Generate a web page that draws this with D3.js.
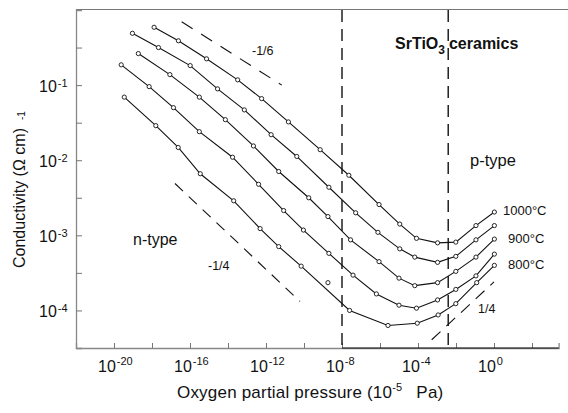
<!DOCTYPE html>
<html><head><meta charset="utf-8">
<script src="https://cdn.jsdelivr.net/npm/d3@7/dist/d3.min.js"></script>
<style>
html,body{margin:0;padding:0;background:#fff;}
svg{display:block;font-family:"Liberation Sans",Arial,Helvetica,sans-serif;}
</style></head>
<body><svg id="c" width="568" height="413"></svg>
<script>
// ---- data (log10 values) ----
const seriesNames = ["1000°C", "950°C", "900°C", "850°C", "800°C"];
const labelledSeries = ["1000°C", "900°C", "800°C"];
// log10 pO2 (10^-5 Pa units)
const logP_1000 = [-17.89,-16.61,-15.13,-13.49,-12.23,-10.82,-9.15,-7.64,-6.05,-4.96,-4.08,-2.97,-2.01,-0.95,0.02];
const logS_1000 = [-0.23,-0.41,-0.65,-0.93,-1.18,-1.49,-1.86,-2.20,-2.59,-2.85,-3.04,-3.10,-3.09,-2.87,-2.69];
const logP_950 = [-19.03,-17.66,-15.99,-14.55,-13.14,-11.73,-10.38,-8.69,-7.28,-6.11,-4.96,-4.17,-2.97,-2.01,-0.95,0.02];
const logS_950 = [-0.31,-0.50,-0.74,-1.05,-1.33,-1.66,-1.95,-2.36,-2.70,-2.96,-3.18,-3.29,-3.36,-3.28,-3.06,-2.87];
const logP_900 = [-18.72,-17.06,-15.51,-14.14,-12.66,-11.33,-9.75,-8.74,-7.55,-6.05,-5.00,-4.17,-2.97,-2.01,-0.95,0.02];
const logS_900 = [-0.58,-0.86,-1.16,-1.46,-1.81,-2.15,-2.50,-2.75,-3.06,-3.35,-3.57,-3.67,-3.63,-3.48,-3.29,-3.05];
const logP_850 = [-19.62,-18.15,-16.87,-15.51,-13.76,-12.39,-11.07,-10.03,-8.69,-7.42,-6.19,-5.00,-4.08,-2.97,-2.01,-0.95,0.02];
const logS_850 = [-0.73,-1.02,-1.30,-1.62,-1.96,-2.32,-2.67,-2.93,-3.24,-3.53,-3.78,-3.93,-3.97,-3.86,-3.72,-3.54,-3.25];
const logP_800 = [-19.46,-17.80,-16.62,-15.46,-13.70,-12.31,-11.33,-10.15,-7.60,-5.58,-4.04,-2.94,-2.01,-0.91,0.02];
const logS_800 = [-1.16,-1.54,-1.83,-2.18,-2.54,-2.91,-3.15,-3.41,-4.00,-4.20,-4.17,-4.06,-3.91,-3.63,-3.40];
const strayPointLogP = [-8.74];
const strayPointLogS = [-3.63];
// slope guide lines [logP, logS] endpoints
const slopeMinus16 = [[-16.44,-0.156],[-11.17,-1.0]];
const slopeMinus14 = [[-16.79,-2.31],[-10.21,-3.88]];
const slopePlus14  = [[-3.28,-4.39],[0.0,-3.62]];
const boundaryLogP = [-8.0, -2.41];
const xTickExps = [-20,-18,-16,-14,-12,-10,-8,-6,-4,-2,0,2];
const xLabelExps = [-20,-16,-12,-8,-4,0];
const yTickExps = [-0.5,-1,-1.5,-2,-2.5,-3,-3.5,-4];
const yLabelExps = [-1,-2,-3,-4];

const series = [
  {name:seriesNames[0], p:logP_1000, s:logS_1000},
  {name:seriesNames[1], p:logP_950, s:logS_950},
  {name:seriesNames[2], p:logP_900, s:logS_900},
  {name:seriesNames[3], p:logP_850, s:logS_850},
  {name:seriesNames[4], p:logP_800, s:logS_800}
];

const svg = d3.select("#c");
const L = 76, R = 558.6, T = 10, B = 348;
const x = d3.scaleLog().domain([1e-22, Math.pow(10,3.4)]).range([L, R]);
const y = d3.scaleLog().domain([Math.pow(10,-4.5), 1]).range([B, T]);
const P = e => Math.pow(10, e);

// frame
svg.append("line").attr("x1",L).attr("x2",568).attr("y1",T-0.5).attr("y2",T-0.5)
  .attr("stroke","#777").attr("stroke-width",1.2);
// axes
const gx = svg.append("g").attr("transform",`translate(0,${B})`)
  .call(d3.axisBottom(x).tickValues(xTickExps.map(P)).tickSize(-5).tickFormat(""));
gx.select(".domain").attr("stroke","#888").attr("stroke-width",1.3);
gx.selectAll(".tick line").attr("stroke","#777");
svg.append("line").attr("x1",x(P(-8))).attr("x2",R).attr("y1",B).attr("y2",B)
  .attr("stroke","#111").attr("stroke-width",1.2);
const gy = svg.append("g").attr("transform",`translate(${L},0)`)
  .call(d3.axisLeft(y).tickValues(yTickExps.map(P)).tickSize(-6).tickFormat(""));
gy.select(".domain").attr("stroke","#888").attr("stroke-width",1.3);
gy.selectAll(".tick line").attr("stroke","#777");

// tick labels
xLabelExps.forEach(e => {
  const t = svg.append("text").attr("x", x(P(e)) - 16).attr("y", 372)
    .attr("font-size", 16).attr("fill","#111");
  t.append("tspan").text("10");
  t.append("tspan").attr("font-size",11).attr("dy",-7).attr("dx",1).text(e === 0 ? "0" : String(e));
});
yLabelExps.forEach(e => {
  const t = svg.append("text").attr("x", 39).attr("y", y(P(e)) + 6.5)
    .attr("font-size", 16).attr("fill","#111");
  t.append("tspan").text("10");
  t.append("tspan").attr("font-size",11).attr("dy",-5).attr("dx",1).text(String(e));
});

// axis titles
const xt = svg.append("text").attr("x",177).attr("y",398).attr("font-size",17)
  .attr("letter-spacing",0.2).attr("fill","#111");
xt.append("tspan").text("Oxygen partial pressure (10");
xt.append("tspan").attr("font-size",11).attr("dy",-7).text("-5");
xt.append("tspan").attr("dy",7).attr("dx",14).text("Pa)");
const yt = svg.append("text").attr("transform","translate(25,268) rotate(-90)")
  .attr("font-size",16).attr("fill","#111");
yt.append("tspan").text("Conductivity (Ω cm)");
yt.append("tspan").attr("font-size",10).attr("dx",8).text("-1");

// region boundaries
boundaryLogP.forEach(e => {
  svg.append("line").attr("x1",x(P(e))).attr("x2",x(P(e))).attr("y1",T).attr("y2",B)
    .attr("stroke","#111").attr("stroke-width",1.4).attr("stroke-dasharray","12,7");
});

// slope guides
const gl = d3.line().x(d => x(P(d[0]))).y(d => y(P(d[1])));
svg.append("path").attr("d", gl(slopeMinus16)).attr("fill","none").attr("stroke","#111")
  .attr("stroke-width",1.1).attr("stroke-dasharray","13,10");
svg.append("path").attr("d", gl(slopeMinus14)).attr("fill","none").attr("stroke","#111")
  .attr("stroke-width",1.1).attr("stroke-dasharray","11,8");
svg.append("path").attr("d", gl(slopePlus14)).attr("fill","none").attr("stroke","#111")
  .attr("stroke-width",1.1).attr("stroke-dasharray","12,8");

// series
series.forEach(sr => {
  const pts = sr.p.map((v,i) => [v, sr.s[i]]);
  svg.append("path").attr("d", gl(pts)).attr("fill","none").attr("stroke","#111").attr("stroke-width",1.1);
  svg.append("g").selectAll("circle").data(pts).join("circle")
    .attr("cx", d => x(P(d[0]))).attr("cy", d => y(P(d[1]))).attr("r", 2.1)
    .attr("fill","#fff").attr("stroke","#111").attr("stroke-width",0.9);
});
svg.append("g").selectAll("circle").data(strayPointLogP.map((v,i)=>[v,strayPointLogS[i]])).join("circle")
  .attr("cx", d => x(P(d[0]))).attr("cy", d => y(P(d[1]))).attr("r", 2.1)
  .attr("fill","#fff").attr("stroke","#111").attr("stroke-width",0.9);

// series labels at right end
const labelPos = {"1000°C":[503,215], "900°C":[508,243], "800°C":[508,269]};
labelledSeries.forEach(n => {
  svg.append("text").attr("x",labelPos[n][0]).attr("y",labelPos[n][1]).attr("font-size",13)
    .attr("fill","#111").text(n);
});

// annotations
svg.append("text").attr("x",252).attr("y",55).attr("font-size",12.5).attr("fill","#111").text("-1/6");
svg.append("text").attr("x",208).attr("y",270).attr("font-size",12.5).attr("fill","#111").text("-1/4");
svg.append("text").attr("x",478).attr("y",313).attr("font-size",12.5).attr("fill","#111").text("1/4");
svg.append("text").attr("x",133).attr("y",245).attr("font-size",16).attr("fill","#111").text("n-type");
svg.append("text").attr("x",470).attr("y",166).attr("font-size",16.5).attr("fill","#111").text("p-type");
const st = svg.append("text").attr("x",395).attr("y",49).attr("font-size",16).attr("font-weight","bold").attr("fill","#111");
st.append("tspan").text("SrTiO");
st.append("tspan").attr("font-size",12).attr("dy",5).text("3");
st.append("tspan").attr("dy",-5).attr("dx",4).text("ceramics");
</script></body></html>
